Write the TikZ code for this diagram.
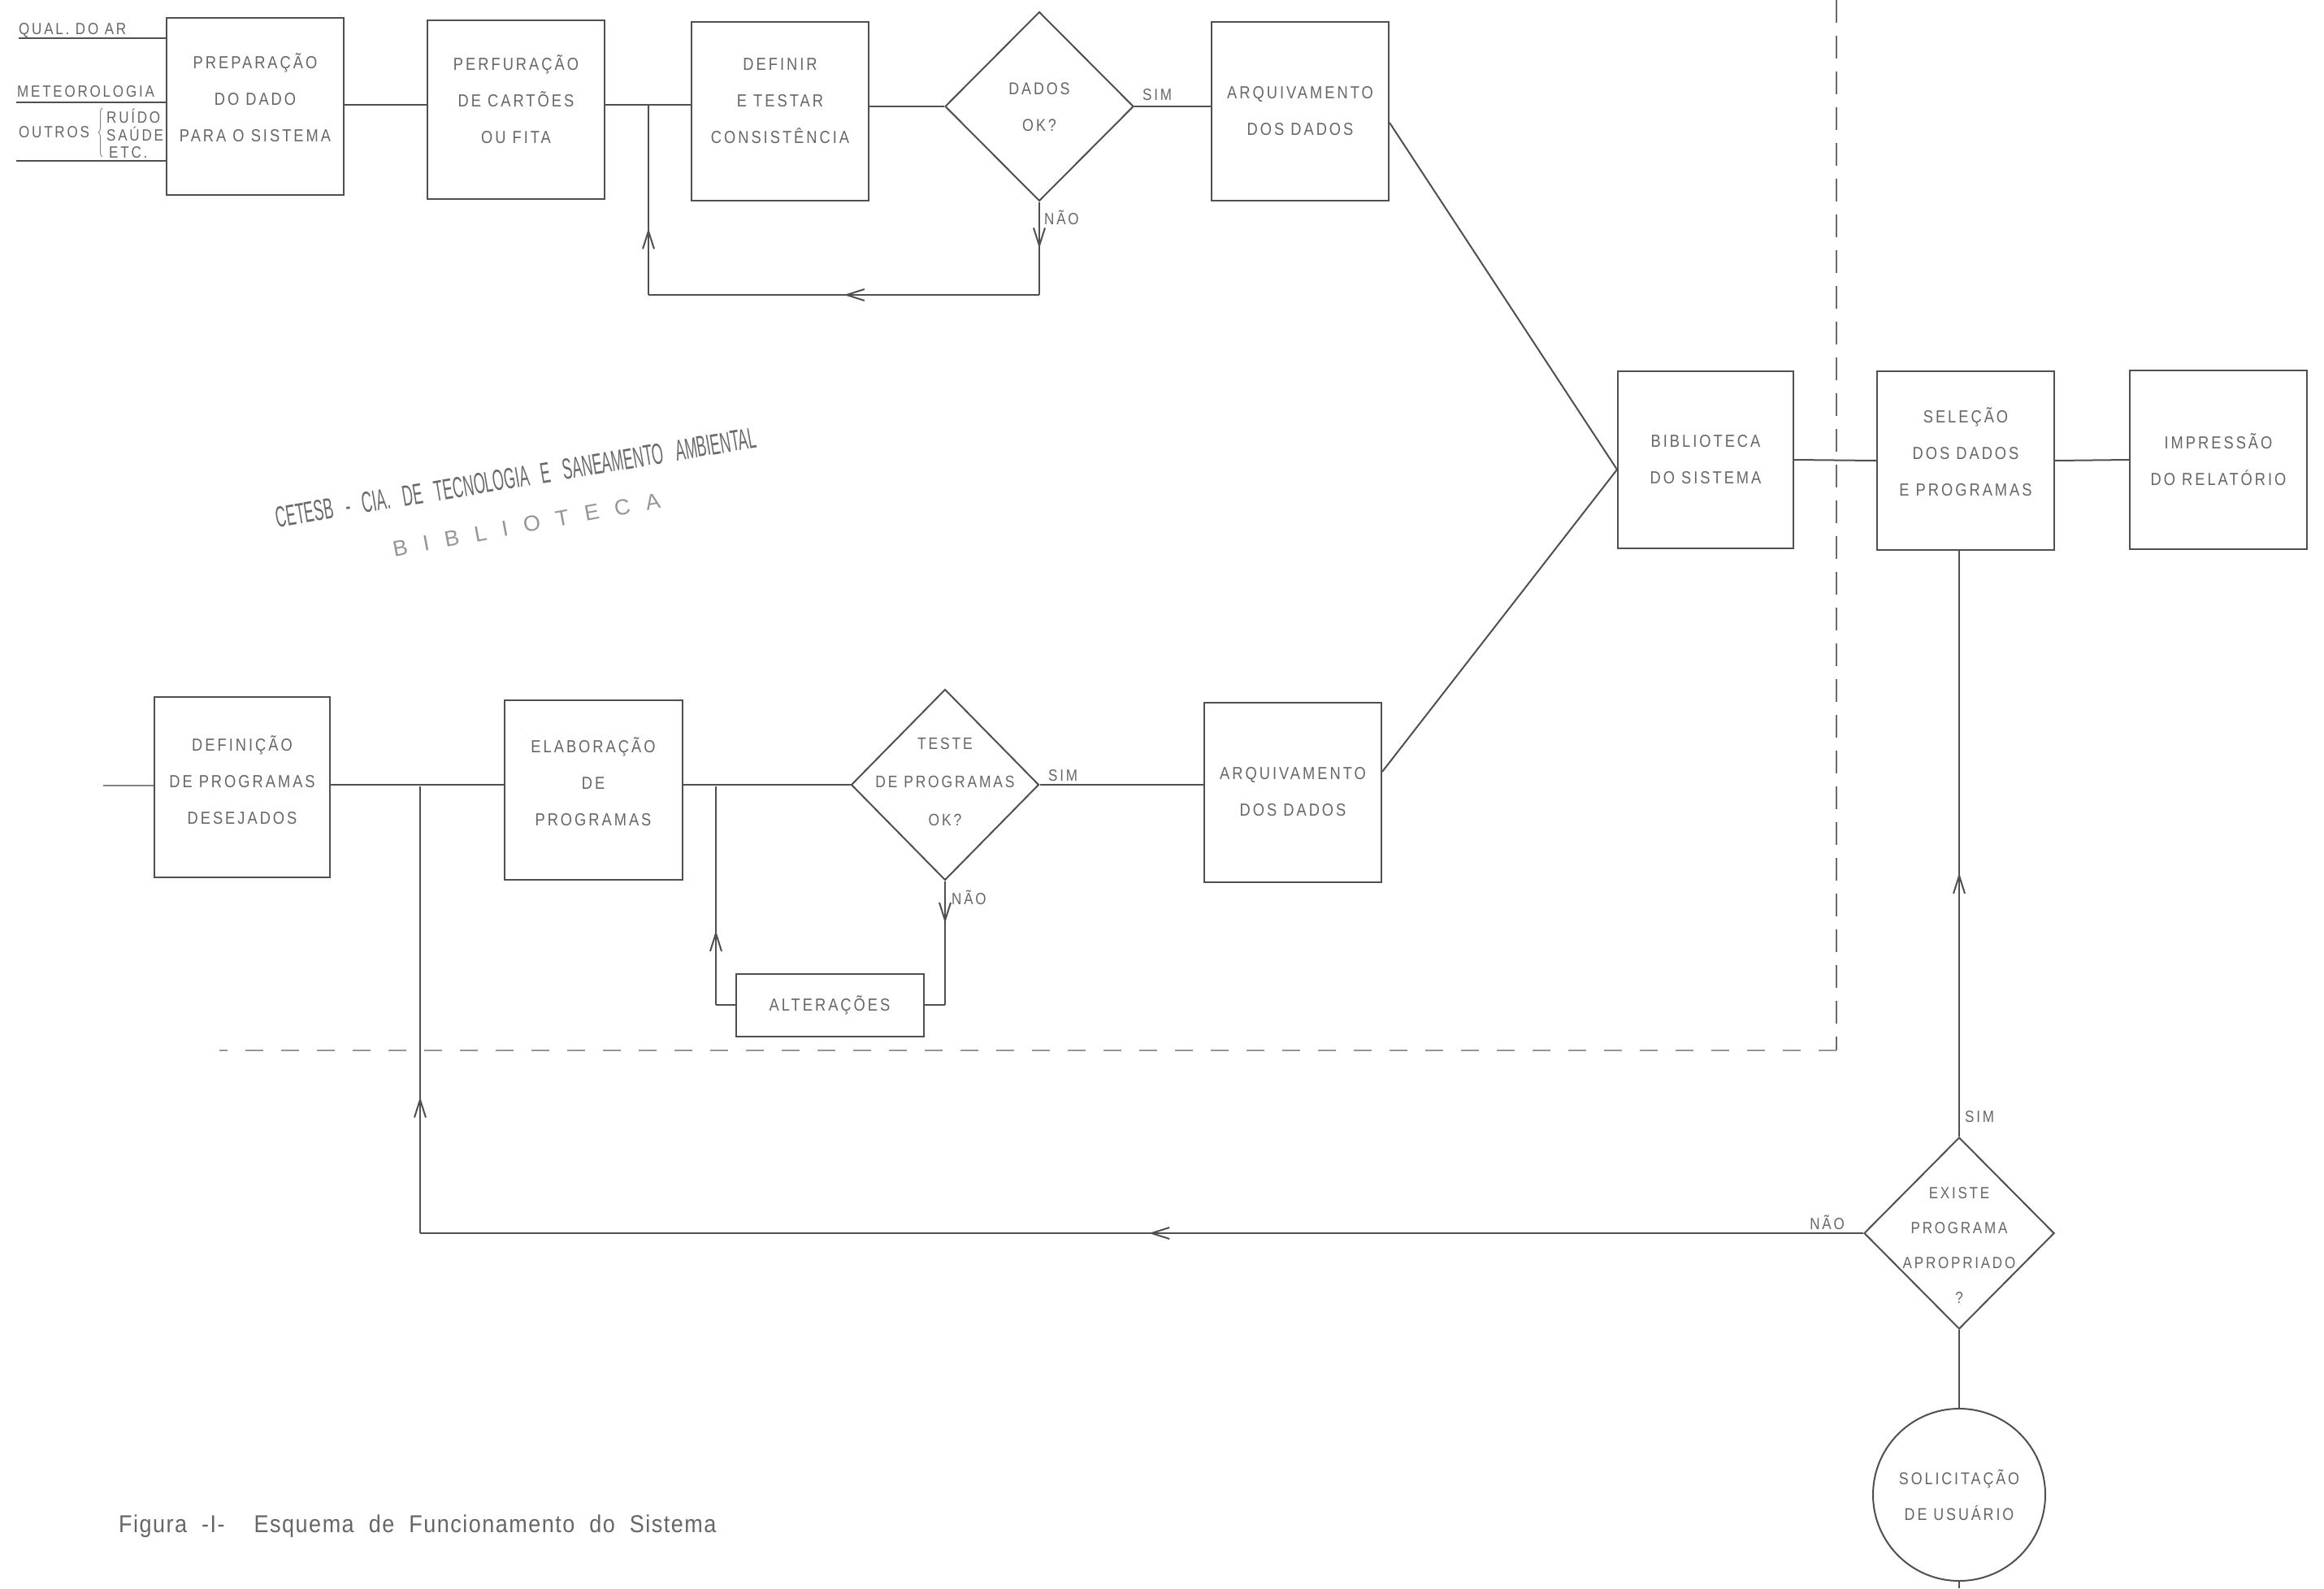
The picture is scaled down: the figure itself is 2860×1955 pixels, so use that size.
\documentclass[tikz,border=0pt]{standalone}
\usepackage{fontspec}
\setmainfont[FakeStretch=0.85,LetterSpace=14]{Liberation Sans}
\newfontfamily\capfont[FakeStretch=0.9,LetterSpace=5,WordSpace=2]{Liberation Sans}
\newfontfamily\stampfont[FakeStretch=0.5,WordSpace=3]{Liberation Sans}
\newfontfamily\stampwide[LetterSpace=72]{Liberation Sans}
\usetikzlibrary{shapes.geometric,arrows.meta,decorations.markings,decorations.pathreplacing,calc}
\definecolor{ink}{HTML}{505050}
\definecolor{txtc}{HTML}{666666}
\tikzset{
  box/.style={draw=ink, line width=2pt, rectangle, inner sep=0pt, minimum width=218pt, minimum height=220pt,
    text=txtc, align=center, font=\fontsize{21.5}{45}\selectfont},
  dia/.style={draw=ink, line width=2pt, diamond, inner sep=0pt},
  txt/.style={text=txtc, align=center, inner sep=0pt, font=\fontsize{21.5}{45}\selectfont},
  lbl/.style={text=txtc, inner sep=0pt, font=\fontsize{20}{24}\selectfont},
  conn/.style={draw=ink, line width=2pt},
  marr/.style={postaction={decorate}, decoration={markings,
    mark=at position #1 with {\arrow[ink,line width=2pt]{Straight Barb[length=22pt,width=14pt]}}}},
}
\begin{document}
\begin{tikzpicture}[x=1pt,y=-1pt]
\useasboundingbox[fill=white] (0,0) rectangle (2860,1955);

% ---------- top row ----------
\node[box, minimum height=218pt] (prep) at (314,131) {};
\node[txt] (prept) at (314,120) {PREPARAÇÃO\\DO DADO\\PARA O SISTEMA};
\node[box] (perf) at (635,135) {};
\node[txt] (perft) at (635,122) {PERFURAÇÃO\\DE CARTÕES\\OU FITA};
\node[box] (defin) at (960,137) {};
\node[txt] (defint) at (960,124) {DEFINIR\\E TESTAR\\CONSISTÊNCIA};
\node[dia, minimum width=232pt, minimum height=233pt] (dados) at (1279,131) {};
\node[txt, font=\fontsize{21}{45}\selectfont] (dadost) at (1279,132) {DADOS\\OK?};
\node[box] (arq1) at (1600,137) {ARQUIVAMENTO\\DOS DADOS};

% inputs
\node[lbl, anchor=west] (qual) at (23,37) {QUAL. DO AR};
\node[lbl, anchor=west] (meteo) at (21,113) {METEOROLOGIA};
\node[lbl, anchor=west] (outros) at (23,163) {OUTROS};
\node[lbl, anchor=west] (ruido) at (131,143) {RUÍDO};
\node[lbl, anchor=west] (saude) at (131,165) {SAÚDE};
\node[lbl, anchor=west] (etc) at (134,188) {ETC.};
\coordinate (q0) at (23,47);
\coordinate (m0) at (20,126);
\coordinate (o0) at (20,198);
\draw[conn] (q0) -- (q0 -| prep.west);
\draw[conn] (m0) -- (m0 -| prep.west);
\draw[conn] (o0) -- (o0 -| prep.west);
\coordinate (br1) at (126,193);
\coordinate (br2) at (126,133);
\draw[ink!70, line width=1pt, decorate, decoration={brace, amplitude=5pt}] (br1) -- (br2);

% top connectors
\coordinate (yA) at (0,129);
\draw[conn] (prep.east |- yA) -- (perf.west |- yA);
\draw[conn] (perf.east |- yA) -- (defin.west |- yA);
\draw[conn] (defin.east |- dados.west) -- (dados.west);
\draw[conn] (dados.east) -- (dados.east -| arq1.west);
\node[lbl, anchor=west] (sim1) at (1406,117) {SIM};
\coordinate (f1) at (1279,363);
\coordinate (f2) at (798,363);
\coordinate (f3) at (798,129);
\draw[conn, marr=0.5] (dados.south) -- (f1);
\draw[conn, marr=0.5] (f1) -- (f2);
\draw[conn, marr=0.35] (f2) -- (f3);
\node[lbl, anchor=west] (nao1) at (1285,268) {NÃO};

% ---------- right part ----------
\node[box, minimum width=216pt, minimum height=218pt] (bib) at (2099,566) {BIBLIOTECA\\DO SISTEMA};
\node[box] (sel) at (2419,567) {};
\node[txt] (selt) at (2419,556) {SELEÇÃO\\DOS DADOS\\E PROGRAMAS};
\node[box] (imp) at (2730,566) {IMPRESSÃO\\DO RELATÓRIO};
\node[dia, minimum width=234pt, minimum height=236pt] (exist) at (2411,1518) {};
\node[txt, font=\fontsize{20}{43}\selectfont] (existt) at (2411,1533) {EXISTE\\PROGRAMA\\APROPRIADO\\?};
\node[circle, draw=ink, line width=2pt, minimum size=212pt, inner sep=0pt, text=txtc, align=center,
  font=\fontsize{21}{44}\selectfont] (sol) at (2411,1840) {SOLICITAÇÃO\\DE USUÁRIO};

\draw[conn] (bib.east) -- (sel.west);
\draw[conn] (sel.east) -- (imp.west);
\coordinate (s1) at (sel.south -| exist.north);
\draw[conn, marr=0.45] (exist.north) -- (s1);
\node[lbl, anchor=west] (sim3) at (2418,1375) {SIM};
\draw[conn] (exist.south) -- (sol.north);
\coordinate (solb) at (2411,1955);
\draw[conn] (sol.south) -- (solb);
\coordinate (n1) at (517,1518);
\coordinate (n2) at (517,968);
\draw[conn, marr=0.495] (exist.west) -- (n1);
\draw[conn, marr=0.305] (n1) -- (n2);
\node[lbl, anchor=east] (nao3) at (2270,1505) {NÃO};

% ---------- bottom row ----------
\node[box, minimum width=216pt, minimum height=222pt] (def) at (298,969) {};
\node[txt] (deft) at (298,960) {DEFINIÇÃO\\DE PROGRAMAS\\DESEJADOS};
\node[box, minimum width=219pt, minimum height=221pt] (elab) at (730,972) {};
\node[txt] (elabt) at (730,962) {ELABORAÇÃO\\DE\\PROGRAMAS};
\node[dia, minimum width=231pt, minimum height=235pt] (teste) at (1163,966) {};
\node[txt, font=\fontsize{20.5}{47}\selectfont] (testet) at (1163,962) {TESTE\\DE PROGRAMAS\\OK?};
\node[box, minimum height=221pt] (arq2) at (1591,975) {ARQUIVAMENTO\\DOS DADOS};
\node[box, minimum width=231pt, minimum height=77pt] (alt) at (1021,1237) {ALTERAÇÕES};

\coordinate (d0) at (127,967);
\draw[conn, ink!70] (d0) -- (d0 -| def.west);
\draw[conn] (def.east |- teste.west) -- (elab.west |- teste.west);
\draw[conn] (elab.east |- teste.west) -- (teste.west);
\draw[conn] (teste.east) -- (teste.east -| arq2.west);
\node[lbl, anchor=west] (sim2) at (1290,955) {SIM};
\coordinate (e1) at (881,968);
\coordinate (e2) at (881,1237);
\draw[conn, marr=0.34] (e2) -- (e1);
\draw[conn] (e2) -- (alt.west);
\coordinate (t1) at (1163,1237);
\draw[conn, marr=0.34] (teste.south) -- (t1);
\draw[conn] (t1) -- (alt.east);
\node[lbl, anchor=west] (nao2) at (1171,1105) {NÃO};

\coordinate (a1) at ($(arq1.east)+(0,14)$);
\coordinate (a2) at ($(arq2.east)+(0,-25)$);
\coordinate (bj) at ($(bib.west)+(0,12)$);
\draw[conn] (a1) -- (bj);
\draw[conn] (a2) -- (bj);

% dashed boundary
\coordinate (dA) at (2260,0);
\coordinate (dB) at (2260,1293);
\coordinate (dC) at (270,1293);
\draw[ink!85, line width=1.6pt, dash pattern=on 28pt off 16pt] (dA) -- (dB);
\draw[ink!60, line width=1.5pt, dash pattern=on 22pt off 22pt] (dB) -- (dC);

% stamp
\node[text=ink!85, inner sep=0pt, rotate=9.5, font=\stampfont\fontsize{36}{36}\selectfont] (stamp1) at (635,588)
  {CETESB - CIA. DE TECNOLOGIA E SANEAMENTO AMBIENTAL};
\node[text=ink!60, inner sep=0pt, rotate=10.5, font=\stampwide\fontsize{27}{27}\selectfont] (stamp2) at (648,646)
  {BIBLIOTECA};

% caption
\node[anchor=west, text=txtc, inner sep=0pt, font=\capfont\fontsize{30}{34}\selectfont] (cap) at (146,1879)
  {Figura -I- \ Esquema de Funcionamento do Sistema};
\end{tikzpicture}
\end{document}
